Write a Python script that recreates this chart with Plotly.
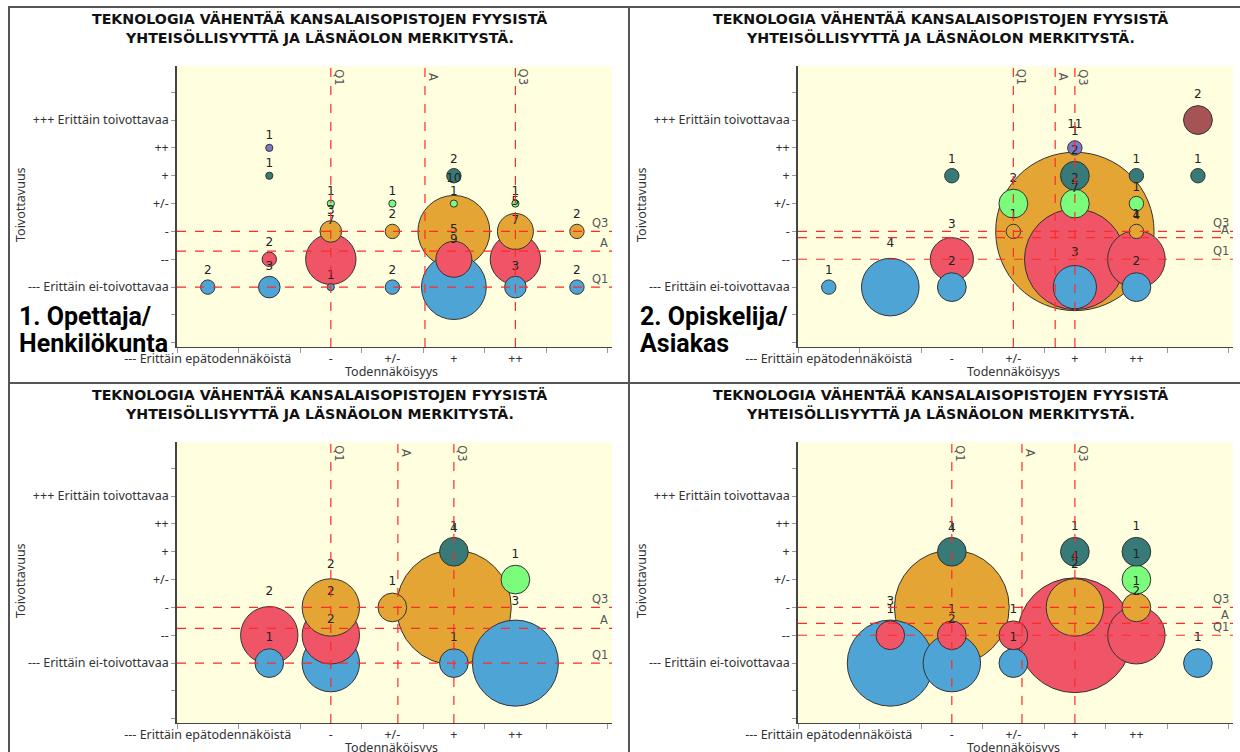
import plotly.graph_objects as go

W, H = 1240, 752

# ---------------- data ----------------
LEVELS = ["---", "--", "-", "+/-", "+", "++", "+++"]
X_TICKTEXT = ["--- Erittäin epätodennäköistä", "", "-", "+/-", "+", "++", ""]
Y_TICKTEXT = ["--- Erittäin ei-toivottavaa", "--", "-", "+/-", "+", "++", "+++ Erittäin toivottavaa"]

TITLE_1 = "TEKNOLOGIA VÄHENTÄÄ KANSALAISOPISTOJEN FYYSISTÄ"
TITLE_2 = "YHTEISÖLLISYYTTÄ JA LÄSNÄOLON MERKITYSTÄ."
X_TITLE = "Todennäköisyys"
Y_TITLE = "Toivottavuus"

PANEL_NAMES = [["1. Opettaja/", "Henkilökunta"],
               ["2. Opiskelija/", "Asiakas"],
               ["3. Päättäjä"],
               ["4. Yhteistyö-", "kumppani"]]

# Panel 1: Opettaja / Henkilökunta
P1_X = ["---", "--", "-", "+/-", "+", "++", "+++",
        "--", "-", "+", "++",
        "-", "+/-", "+", "++", "+++",
        "-", "+/-", "+", "++",
        "--", "+",
        "--"]
P1_Y = ["---", "---", "---", "---", "---", "---", "---",
        "--", "--", "--", "--",
        "-", "-", "-", "-", "-",
        "+/-", "+/-", "+/-", "+/-",
        "+", "+",
        "++"]
P1_N = [2, 3, 1, 2, 9, 3, 2,
        2, 7, 5, 7,
        3, 2, 10, 5, 2,
        1, 1, 1, 1,
        1, 2,
        1]

# Panel 2: Opiskelija / Asiakas
P2_X = ["---", "--", "-", "+", "++",
        "-", "+", "++",
        "+/-", "+", "++",
        "+/-", "+", "++",
        "-", "+", "++", "+++",
        "+",
        "+++"]
P2_Y = ["---", "---", "---", "---", "---",
        "--", "--", "--",
        "-", "-", "-",
        "+/-", "+/-", "+/-",
        "+", "+", "+", "+",
        "++",
        "+++"]
P2_N = [1, 4, 2, 3, 2,
        3, 7, 4,
        1, 11, 1,
        2, 2, 1,
        1, 2, 1, 1,
        1,
        2]

# Panel 3: Päättäjä
P3_X = ["--", "-", "+", "++",
        "--", "-",
        "-", "+/-", "+",
        "++",
        "+"]
P3_Y = ["---", "---", "---", "---",
        "--", "--",
        "-", "-", "-",
        "+/-",
        "+"]
P3_N = [1, 2, 1, 3,
        2, 2,
        2, 1, 4,
        1,
        1]

# Panel 4: Yhteistyökumppani
P4_X = ["--", "-", "+/-", "+++",
        "--", "-", "+/-", "+", "++",
        "-", "+", "++",
        "++",
        "-", "+", "++"]
P4_Y = ["---", "---", "---", "---",
        "--", "--", "--", "--", "--",
        "-", "-", "-",
        "+/-",
        "+", "+", "+"]
P4_N = [3, 2, 1, 1,
        1, 1, 1, 4, 2,
        4, 2, 1,
        1,
        1, 1, 1]

# reference lines (Q1, A, Q3) for each panel, x = todennäköisyys, y = toivottavuus
P1_LINES_X = {"Q1": -1.0, "A": 0.53, "Q3": 2.0}
P1_LINES_Y = {"Q3": -1.0, "A": -1.71, "Q1": -3.0}
P2_LINES_X = {"Q1": 0.0, "A": 0.68, "Q3": 1.0}
P2_LINES_Y = {"Q3": -1.0, "A": -1.22, "Q1": -2.0}
P3_LINES_X = {"Q1": -1.0, "A": 0.09, "Q3": 1.0}
P3_LINES_Y = {"Q3": -1.0, "A": -1.75, "Q1": -3.0}
P4_LINES_X = {"Q1": -1.0, "A": 0.14, "Q3": 1.0}
P4_LINES_Y = {"Q3": -1.0, "A": -1.57, "Q1": -2.0}

# ---------------- style ----------------
COLORS = {"---": "#4FA4D6", "--": "#F05467", "-": "#E4A535", "+/-": "#7BFC7B",
          "+": "#377A78", "++": "#7C7AC6", "+++": "#A65356"}
DIAM_PER_UNIT = [7.2, 14.4, 28.7, 28.7]
PANELS = [(P1_X, P1_Y, P1_N, P1_LINES_X, P1_LINES_Y),
          (P2_X, P2_Y, P2_N, P2_LINES_X, P2_LINES_Y),
          (P3_X, P3_Y, P3_N, P3_LINES_X, P3_LINES_Y),
          (P4_X, P4_Y, P4_N, P4_LINES_X, P4_LINES_Y)]
VAL = {lv: i - 3 for i, lv in enumerate(LEVELS)}
LINE_RED = "#FF2A2A"
TICK_FONT = dict(family="Noto Sans, DejaVu Sans, sans-serif", size=12.5, color="#333")
REF_FONT = dict(family="DejaVu Sans, sans-serif", size=11.5, color="#555")


def px_x(p):
    return p / W


def px_y(p):
    return 1 - p / H


fig = go.Figure()
annotations = []
shapes = []

for i, (xs, ys, ns, lx, ly) in enumerate(PANELS):
    c, r = i % 2, i // 2
    dx, dy = 621 * c, 376 * r
    ax = "" if i == 0 else str(i + 1)
    xa, ya = "x" + ax, "y" + ax

    order = sorted(range(len(ns)), key=lambda k: (-ns[k], VAL[ys[k]]))
    fig.add_trace(go.Scatter(
        x=[VAL[xs[k]] for k in order],
        y=[VAL[ys[k]] for k in order],
        text=[str(ns[k]) for k in order],
        mode="markers+text",
        textposition="top center",
        textfont=dict(family="DejaVu Sans, sans-serif", size=12, color="#222"),
        marker=dict(size=[ns[k] * DIAM_PER_UNIT[i] for k in order],
                    sizemode="diameter",
                    color=[COLORS[ys[k]] for k in order],
                    opacity=1,
                    line=dict(color="#333", width=1)),
        xaxis=xa, yaxis=ya, showlegend=False, hoverinfo="skip", cliponaxis=False,
    ))

    xdom = [px_x(177 + dx), px_x(612 + dx)]
    ydom = [px_y(347 + dy), px_y(66 + dy)]
    xkey = "xaxis" + ax
    ykey = "yaxis" + ax
    fig.update_layout(**{
        xkey: dict(domain=xdom, anchor=ya, range=[-3.5, 3.57], automargin=False,
                   tickmode="array", tickvals=list(range(-3, 4)), ticktext=X_TICKTEXT,
                   tickangle=0, ticks="", showline=True, linecolor="#444", linewidth=1,
                   showgrid=False, zeroline=False, tickfont=TICK_FONT,
                   minor=dict(ticks="outside", tick0=-3.5, dtick=1, ticklen=5,
                              tickcolor="#999", showgrid=False)),
        ykey: dict(domain=ydom, anchor=xa, range=[-5.15, 4.94], automargin=False,
                   tickmode="array", tickvals=list(range(-3, 4)), ticktext=Y_TICKTEXT,
                   ticks="outside", ticklen=4, tickcolor="#999",
                   showline=True, linecolor="#444", linewidth=1.5,
                   showgrid=False, zeroline=False, tickfont=TICK_FONT,
                   minor=dict(ticks="outside", tick0=0, dtick=1, ticklen=4,
                              tickcolor="#999", showgrid=False)),
    })

    # reference lines
    for name, v in lx.items():
        shapes.append(dict(type="line", xref=xa, yref=ya + " domain", x0=v, x1=v, y0=0, y1=1,
                           line=dict(color=LINE_RED, width=1.2, dash="dash"), layer="above"))
        annotations.append(dict(text=name, xref=xa, yref=ya + " domain", x=v, y=1,
                                xanchor="center", yanchor="middle", xshift=8, yshift=-11,
                                textangle=90, showarrow=False, font=REF_FONT))
    for name, v in ly.items():
        shapes.append(dict(type="line", xref=xa + " domain", yref=ya, x0=0, x1=1, y0=v, y1=v,
                           line=dict(color=LINE_RED, width=1.2, dash="dash"), layer="above"))
        annotations.append(dict(text=name, xref=xa + " domain", yref=ya, x=0.995, y=v,
                                xanchor="right", yanchor="bottom", yshift=-1, showarrow=False,
                                font=REF_FONT))

    # titles
    cx = 319 + dx
    for t, yy in ((TITLE_1, 19), (TITLE_2, 38)):
        annotations.append(dict(text=t, xref="paper", yref="paper", x=px_x(cx), y=px_y(yy + dy),
                                xanchor="center", yanchor="middle", showarrow=False,
                                font=dict(family="DejaVu Sans, sans-serif", size=14.2,
                                          color="#111", weight="bold")))
    # axis titles
    annotations.append(dict(text=X_TITLE, xref="paper", yref="paper", x=px_x(392 + dx),
                            y=px_y(371 + dy), xanchor="center", yanchor="middle", showarrow=False,
                            font=TICK_FONT))
    annotations.append(dict(text=Y_TITLE, xref="paper", yref="paper", x=px_x(20 + dx),
                            y=px_y(205 + dy), xanchor="center", yanchor="middle", showarrow=False,
                            textangle=-90, font=TICK_FONT))
    # panel name
    lines = PANEL_NAMES[i]
    y0 = 316 if len(lines) == 2 else 698
    if i == 3:
        y0 = 688
    for j, t in enumerate(lines):
        annotations.append(dict(text=t, xref="paper", yref="paper", x=px_x(17 + dx),
                                y=px_y(y0 + 28 * j + dy), xanchor="left", yanchor="middle",
                                showarrow=False,
                                font=dict(family="Liberation Sans Narrow, Roboto, sans-serif",
                                          size=25, color="#000", weight="bold")))

# panel borders
BORDER = dict(color="#555", width=2)
shapes += [
    dict(type="line", xref="paper", yref="paper", x0=px_x(9), x1=px_x(9), y0=px_y(7), y1=0, line=BORDER),
    dict(type="line", xref="paper", yref="paper", x0=px_x(8), x1=1, y0=px_y(7), y1=px_y(7), line=BORDER),
    dict(type="line", xref="paper", yref="paper", x0=px_x(629), x1=px_x(629), y0=px_y(7), y1=0, line=BORDER),
    dict(type="line", xref="paper", yref="paper", x0=px_x(8), x1=1, y0=px_y(383), y1=px_y(383), line=BORDER),
]

fig.update_layout(width=W, height=H, margin=dict(l=0, r=0, t=0, b=0, autoexpand=False),
                  paper_bgcolor="white", plot_bgcolor="#FFFFE0",
                  shapes=shapes, annotations=annotations, showlegend=False)

fig.write_html("out.html", config={"displayModeBar": False},
               post_script="document.body.style.margin='0px';document.body.style.overflow='hidden';")
